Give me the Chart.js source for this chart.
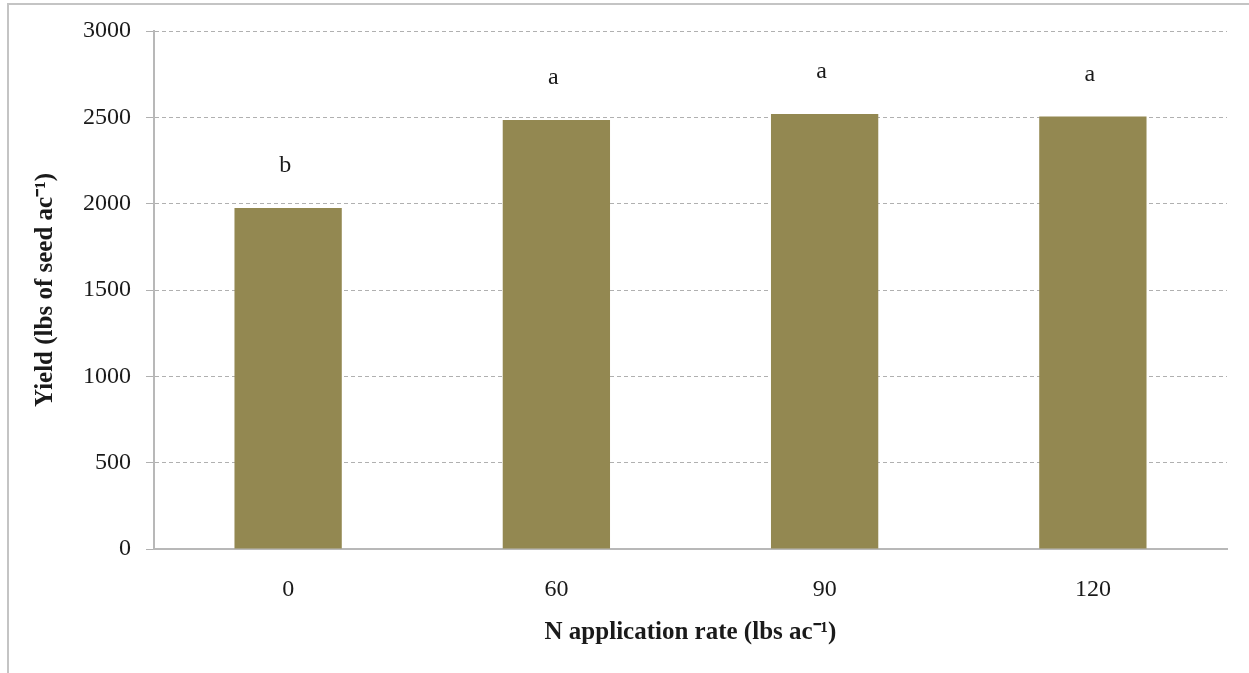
<!DOCTYPE html>
<html>
<head>
<meta charset="utf-8">
<script src="https://cdn.jsdelivr.net/npm/chart.js@4"></script>
<style>
html,body{margin:0;padding:0;background:#fff;}
#wrap{position:relative;width:1249px;height:673px;}
</style>
</head>
<body>
<div id="wrap"><canvas id="c" width="1249" height="673"></canvas></div>
<script>
const categories = ["0", "60", "90", "120"];
const yieldValues = [1975, 2485, 2520, 2505];
const letters = ["b", "a", "a", "a"];
const yTicks = [0, 500, 1000, 1500, 2000, 2500, 3000];
const xTitle = "N application rate (lbs ac\u207B\u00B9)";
const yTitle = "Yield (lbs of seed ac\u207B\u00B9)";

const SERIF = "'Liberation Serif', 'Times New Roman', serif";

const frame = {
  id: 'frame',
  beforeDraw(chart) {
    const ctx = chart.ctx;
    ctx.save();
    ctx.fillStyle = '#fff';
    ctx.fillRect(0, 0, chart.width, chart.height);
    ctx.strokeStyle = '#c4c4c4';
    ctx.lineWidth = 2;
    ctx.beginPath();
    ctx.moveTo(8, 673);
    ctx.lineTo(8, 4);
    ctx.lineTo(1249, 4);
    ctx.stroke();
    ctx.restore();
  }
};

const letterPlugin = {
  id: 'letters',
  afterDatasetsDraw(chart) {
    const meta = chart.getDatasetMeta(0);
    const ctx = chart.ctx;
    ctx.save();
    ctx.font = "24px " + SERIF;
    ctx.fillStyle = '#1a1a1a';
    ctx.textAlign = 'center';
    ctx.textBaseline = 'middle';
    meta.data.forEach((bar, i) => {
      ctx.fillText(letters[i], bar.x - 3, bar.y - 42);
    });
    ctx.restore();
  }
};

new Chart(document.getElementById('c'), {
  type: 'bar',
  data: {
    labels: categories,
    datasets: [{
      data: yieldValues,
      backgroundColor: '#938851',
      borderWidth: 0,
      categoryPercentage: 1,
      barPercentage: 0.4
    }]
  },
  options: {
    responsive: false,
    animation: false,
    events: [],
    layout: { padding: { left: 0, top: 31, right: 22, bottom: 0 } },
    plugins: { legend: { display: false }, tooltip: { enabled: false } },
    scales: {
      x: {
        afterFit(s) { s.height = 124; },
        grid: { drawOnChartArea: false, drawTicks: false, tickLength: 0 },
        border: { color: '#b8b8b8', width: 2 },
        ticks: { color: '#1a1a1a', font: { family: SERIF, size: 24 }, padding: 26 },
        title: { display: true, text: xTitle, color: '#1a1a1a',
                 font: { family: SERIF, size: 25, weight: 'bold' }, padding: { top: 25, bottom: 25 } }
      },
      y: {
        min: 0, max: 3000,
        afterFit(s) { s.width = 154; },
        afterBuildTicks(s) { s.ticks = yTicks.map(v => ({ value: v })); },
        grid: { color: '#b0b0b0', lineWidth: 1, tickLength: 8, drawTicks: true },
        border: { color: '#b8b8b8', width: 2, dash: [4, 3] },
        ticks: { color: '#1a1a1a', font: { family: SERIF, size: 24 }, padding: 15,
                 callback: v => String(v) },
        title: { display: true, text: yTitle, color: '#1a1a1a',
                 font: { family: SERIF, size: 25, weight: 'bold' }, padding: { top: 31, bottom: 31 } }
      }
    }
  },
  plugins: [frame, letterPlugin]
});
</script>
</body>
</html>
